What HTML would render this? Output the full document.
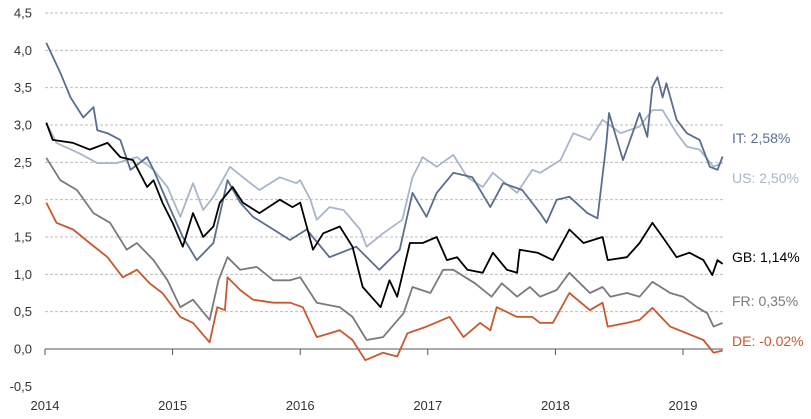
<!DOCTYPE html>
<html><head><meta charset="utf-8"><style>
body{margin:0;background:#fff;font-family:"Liberation Sans",sans-serif}
svg{display:block}
</style></head><body>
<svg id="chart" width="811" height="419" xmlns="http://www.w3.org/2000/svg"></svg>
<script>
const yTicks=[4.5,4.0,3.5,3.0,2.5,2.0,1.5,1.0,0.5,0.0,-0.5];
const yTickLabels=["4,5","4,0","3,5","3,0","2,5","2,0","1,5","1,0","0,5","0,0","-0,5"];
const xTicks=[2014,2015,2016,2017,2018,2019];
const xTickLabels=["2014","2015","2016","2017","2018","2019"];

const itDates=[2014.01,2014.12,2014.20,2014.30,2014.38,2014.41,2014.49,2014.59,2014.67,2014.80,2014.85,2014.96,2015.08,2015.19,2015.32,2015.43,2015.53,2015.63,2015.79,2015.92,2016.05,2016.23,2016.44,2016.62,2016.78,2016.88,2016.99,2017.07,2017.20,2017.35,2017.49,2017.59,2017.74,2017.88,2017.93,2018.01,2018.11,2018.25,2018.33,2018.40,2018.42,2018.53,2018.66,2018.72,2018.76,2018.80,2018.84,2018.87,2018.95,2019.03,2019.13,2019.21,2019.27,2019.31];
const itValues=[4.1,3.7,3.37,3.1,3.24,2.93,2.89,2.8,2.4,2.57,2.4,1.96,1.5,1.19,1.42,2.26,1.96,1.77,1.6,1.46,1.6,1.23,1.37,1.06,1.33,2.09,1.77,2.09,2.36,2.3,1.9,2.22,2.13,1.82,1.69,2.0,2.04,1.82,1.75,2.76,3.16,2.53,3.16,2.84,3.51,3.64,3.37,3.56,3.07,2.89,2.8,2.44,2.4,2.58];

const usDates=[2014.01,2014.09,2014.27,2014.41,2014.56,2014.72,2014.85,2014.96,2015.06,2015.16,2015.24,2015.32,2015.45,2015.58,2015.68,2015.84,2015.97,2016.00,2016.08,2016.13,2016.23,2016.34,2016.47,2016.52,2016.65,2016.80,2016.88,2016.96,2017.07,2017.20,2017.31,2017.43,2017.51,2017.70,2017.82,2017.88,2018.04,2018.14,2018.27,2018.37,2018.51,2018.66,2018.76,2018.84,2018.95,2019.03,2019.13,2019.24,2019.31];
const usValues=[3.03,2.76,2.62,2.49,2.49,2.57,2.4,2.17,1.77,2.22,1.86,2.04,2.44,2.26,2.13,2.3,2.22,2.26,2.0,1.73,1.9,1.86,1.6,1.37,1.55,1.73,2.3,2.57,2.44,2.6,2.3,2.17,2.36,2.09,2.4,2.36,2.53,2.89,2.8,3.07,2.89,2.98,3.2,3.2,2.89,2.71,2.67,2.44,2.5];

const gbDates=[2014.01,2014.06,2014.22,2014.35,2014.49,2014.59,2014.69,2014.80,2014.85,2014.92,2015.00,2015.08,2015.16,2015.24,2015.32,2015.37,2015.47,2015.55,2015.68,2015.84,2015.94,2016.00,2016.10,2016.18,2016.31,2016.41,2016.49,2016.63,2016.70,2016.76,2016.86,2016.96,2017.07,2017.15,2017.23,2017.31,2017.43,2017.51,2017.62,2017.70,2017.72,2017.86,2017.98,2018.11,2018.22,2018.37,2018.41,2018.56,2018.66,2018.76,2018.84,2018.95,2019.05,2019.16,2019.23,2019.27,2019.31];
const gbValues=[3.03,2.8,2.76,2.67,2.76,2.57,2.53,2.17,2.26,1.96,1.69,1.37,1.82,1.5,1.64,1.96,2.17,1.96,1.82,2.0,1.9,1.96,1.33,1.55,1.64,1.37,0.83,0.56,0.92,0.7,1.42,1.42,1.5,1.19,1.23,1.06,1.02,1.29,1.06,1.02,1.33,1.29,1.19,1.6,1.42,1.5,1.19,1.23,1.42,1.69,1.5,1.23,1.29,1.19,0.99,1.19,1.14];

const frDates=[2014.01,2014.12,2014.25,2014.38,2014.51,2014.64,2014.72,2014.85,2014.96,2015.06,2015.16,2015.29,2015.36,2015.43,2015.53,2015.66,2015.79,2015.92,2016.00,2016.13,2016.31,2016.41,2016.52,2016.65,2016.81,2016.88,2017.02,2017.12,2017.20,2017.37,2017.50,2017.58,2017.70,2017.80,2017.88,2018.01,2018.11,2018.27,2018.37,2018.43,2018.56,2018.66,2018.76,2018.90,2019.00,2019.11,2019.19,2019.24,2019.31];
const frValues=[2.56,2.26,2.13,1.82,1.69,1.33,1.42,1.19,0.92,0.56,0.66,0.39,0.92,1.23,1.06,1.1,0.92,0.92,0.96,0.62,0.56,0.43,0.12,0.16,0.48,0.83,0.75,1.06,1.06,0.88,0.7,0.88,0.7,0.83,0.7,0.79,1.02,0.75,0.83,0.7,0.75,0.7,0.9,0.75,0.7,0.56,0.48,0.3,0.35];

const deDates=[2014.01,2014.09,2014.22,2014.35,2014.49,2014.61,2014.72,2014.82,2014.92,2015.06,2015.16,2015.29,2015.35,2015.41,2015.43,2015.53,2015.63,2015.79,2015.92,2016.02,2016.13,2016.31,2016.41,2016.51,2016.65,2016.76,2016.84,2016.99,2017.17,2017.28,2017.41,2017.49,2017.54,2017.70,2017.82,2017.88,2017.98,2018.11,2018.27,2018.37,2018.41,2018.56,2018.66,2018.76,2018.90,2019.03,2019.16,2019.24,2019.31];
const deValues=[1.96,1.69,1.6,1.42,1.23,0.96,1.06,0.88,0.75,0.43,0.35,0.09,0.56,0.52,0.96,0.79,0.66,0.62,0.62,0.56,0.16,0.25,0.12,-0.15,-0.05,-0.1,0.21,0.3,0.43,0.16,0.35,0.25,0.56,0.43,0.43,0.35,0.35,0.75,0.52,0.62,0.3,0.35,0.39,0.55,0.3,0.21,0.12,-0.05,-0.02];

const seriesNames=["IT","US","GB","FR","DE"];
const endLabels=["IT: 2,58%","US: 2,50%","GB: 1,14%","FR: 0,35%","DE: -0.02%"];

const NS="http://www.w3.org/2000/svg";
const svg=document.getElementById("chart");
const X0=45,X1=723;
function xs(t){return X0+(t-2014)*127.6;}
function ys(v){return 349-v*74.67;}
function mk(tag,attrs,parent){const e=document.createElementNS(NS,tag);for(const k in attrs)e.setAttribute(k,attrs[k]);(parent||svg).appendChild(e);return e;}

yTicks.forEach((v,i)=>{
  if(v>0){
    const g=mk("line",{x1:X0,x2:X1,y1:ys(v),y2:ys(v),stroke:"#bdbdbd","stroke-width":1,"stroke-dasharray":"3,2"});
    
    
  }
  const t=mk("text",{x:32,y:ys(v)+4.5,"text-anchor":"end","font-size":"13",fill:"#333"});
  t.textContent=yTickLabels[i];
  
  
});
const ax=mk("line",{x1:X0,x2:X1,y1:ys(0),y2:ys(0),stroke:"#555","stroke-width":1});


xTicks.forEach((yr,i)=>{
  const tk=mk("line",{x1:xs(yr),x2:xs(yr),y1:ys(0),y2:ys(0)+6,stroke:"#555","stroke-width":1});
  
  
  const t=mk("text",{x:xs(yr),y:410,"text-anchor":"middle","font-size":"13",fill:"#333"});
  t.textContent=xTickLabels[i];
  
  
});

const data=[[itDates,itValues],[usDates,usValues],[gbDates,gbValues],[frDates,frValues],[deDates,deValues]];
const colors=["#5a6e8c","#a9b5c9","#000000","#7a7a7a","#c8582e"];
const drawOrder=[1,0,3,4,2];
drawOrder.forEach(i=>{
  const [d,v]=data[i];
  const pts=d.map((t,j)=>xs(t).toFixed(1)+","+ys(v[j]).toFixed(1)).join(" ");
  const p=mk("polyline",{points:pts,fill:"none",stroke:colors[i],"stroke-width":1.8,"stroke-linejoin":"round"});
  
  
});
const labelY=[143,183,262,306,346];
endLabels.forEach((s,i)=>{
  const t=mk("text",{x:732,y:labelY[i],"font-size":"14",fill:colors[i]});
  t.textContent=s;
  
  
});
</script>
</body></html>
